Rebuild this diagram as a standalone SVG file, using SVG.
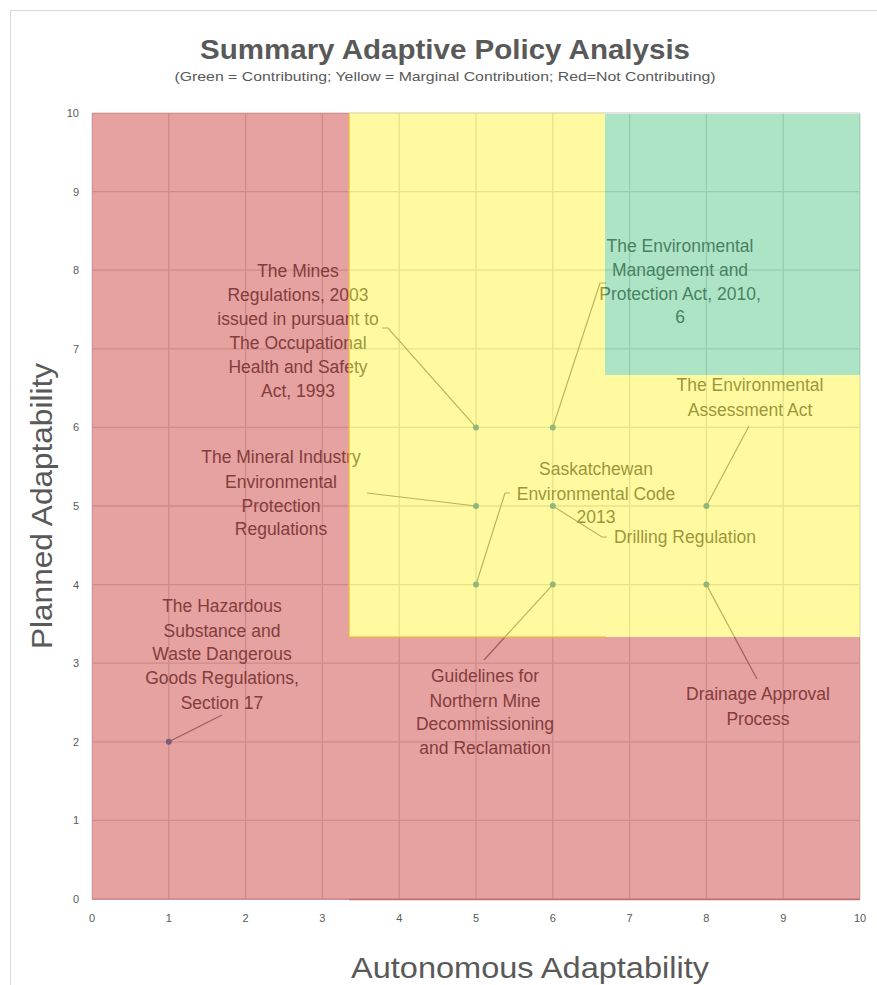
<svg xmlns="http://www.w3.org/2000/svg" width="877" height="985" viewBox="0 0 877 985">
<style>
  .lbl { font-family: "Liberation Sans", Arial, sans-serif; font-size: 17.5px; fill: #595959; text-anchor: middle; }
  .tick { font-family: "Liberation Sans", Arial, sans-serif; font-size: 11px; fill: #595959; }
  .grid line { stroke: #d9d9d9; stroke-width: 1.3; }
  .lead { fill: none; stroke: #8c8c8c; stroke-width: 1.2; }
  .pt { fill: #4a8fc4; }
  .ov { opacity: 0.4; }
</style>
<rect x="0" y="0" width="877" height="985" fill="#ffffff"/>
<rect x="10.5" y="10.5" width="872" height="980" fill="none" stroke="#d9d9d9" stroke-width="1"/>

<g id="title">
  <text x="445" y="59" font-family="Liberation Sans, Arial, sans-serif" font-size="28" font-weight="bold" fill="#595959" text-anchor="middle" textLength="490" lengthAdjust="spacingAndGlyphs">Summary Adaptive Policy Analysis</text>
  <text x="445" y="81" font-family="Liberation Sans, Arial, sans-serif" font-size="13" fill="#595959" text-anchor="middle" textLength="541" lengthAdjust="spacingAndGlyphs">(Green = Contributing; Yellow = Marginal Contribution; Red=Not Contributing)</text>
</g>

<g id="grid" class="grid">
  <line x1="92" y1="113" x2="92" y2="899"/>
  <line x1="168.8" y1="113" x2="168.8" y2="899"/>
  <line x1="245.6" y1="113" x2="245.6" y2="899"/>
  <line x1="322.4" y1="113" x2="322.4" y2="899"/>
  <line x1="399.2" y1="113" x2="399.2" y2="899"/>
  <line x1="476" y1="113" x2="476" y2="899"/>
  <line x1="552.8" y1="113" x2="552.8" y2="899"/>
  <line x1="629.6" y1="113" x2="629.6" y2="899"/>
  <line x1="706.4" y1="113" x2="706.4" y2="899"/>
  <line x1="783.2" y1="113" x2="783.2" y2="899"/>
  <line x1="860" y1="113" x2="860" y2="899"/>
  <line x1="92" y1="899" x2="860" y2="899"/>
  <line x1="92" y1="820.4" x2="860" y2="820.4"/>
  <line x1="92" y1="741.8" x2="860" y2="741.8"/>
  <line x1="92" y1="663.2" x2="860" y2="663.2"/>
  <line x1="92" y1="584.6" x2="860" y2="584.6"/>
  <line x1="92" y1="506" x2="860" y2="506"/>
  <line x1="92" y1="427.4" x2="860" y2="427.4"/>
  <line x1="92" y1="348.8" x2="860" y2="348.8"/>
  <line x1="92" y1="270.2" x2="860" y2="270.2"/>
  <line x1="92" y1="191.6" x2="860" y2="191.6"/>
  <line x1="92" y1="113" x2="860" y2="113"/>
</g>

<g id="axes" class="tick">
  <g text-anchor="middle">
    <text x="92" y="922">0</text><text x="168.8" y="922">1</text><text x="245.6" y="922">2</text>
    <text x="322.4" y="922">3</text><text x="399.2" y="922">4</text><text x="476" y="922">5</text>
    <text x="552.8" y="922">6</text><text x="629.6" y="922">7</text><text x="706.4" y="922">8</text>
    <text x="783.2" y="922">9</text><text x="860" y="922">10</text>
  </g>
  <g text-anchor="end">
    <text x="79" y="903">0</text><text x="79" y="824.4">1</text><text x="79" y="745.8">2</text>
    <text x="79" y="667.2">3</text><text x="79" y="588.6">4</text><text x="79" y="510">5</text>
    <text x="79" y="431.4">6</text><text x="79" y="352.8">7</text><text x="79" y="274.2">8</text>
    <text x="79" y="195.6">9</text><text x="79" y="117">10</text>
  </g>
  <text x="530" y="978" font-size="30" text-anchor="middle" textLength="358" lengthAdjust="spacingAndGlyphs">Autonomous Adaptability</text>
  <text transform="translate(52,506) rotate(-90)" x="0" y="0" font-size="30" text-anchor="middle" textLength="286" lengthAdjust="spacingAndGlyphs">Planned Adaptability</text>
</g>

<g id="connectors">
  <polyline class="lead" points="382,328 388,328 476,427.4"/>
  <polyline class="lead" points="606,283 600,283 552.8,427.4"/>
  <polyline class="lead" points="749,426 706.4,506"/>
  <polyline class="lead" points="367,493 476,506"/>
  <polyline class="lead" points="476,584.6 505,493 510,493"/>
  <polyline class="lead" points="552.8,506 602,537 607,537"/>
  <polyline class="lead" points="552.8,584.6 484,660"/>
  <polyline class="lead" points="706.4,584.6 757,679"/>
  <polyline class="lead" points="168.8,741.8 222,715"/>
</g>

<g id="node-mines">
  <circle class="pt" cx="476" cy="427.4" r="3"/>
  <text class="lbl"><tspan x="298" y="277">The Mines</tspan><tspan x="298" y="301">Regulations, 2003</tspan><tspan x="298" y="325">issued in pursuant to</tspan><tspan x="298" y="349">The Occupational</tspan><tspan x="298" y="373">Health and Safety</tspan><tspan x="298" y="397">Act, 1993</tspan></text>
</g>
<g id="node-emp">
  <circle class="pt" cx="552.8" cy="427.4" r="3"/>
  <text class="lbl"><tspan x="680" y="252">The Environmental</tspan><tspan x="680" y="276">Management and</tspan><tspan x="680" y="300">Protection Act, 2010,</tspan><tspan x="680" y="323">6</tspan></text>
</g>
<g id="node-ea">
  <circle class="pt" cx="706.4" cy="506" r="3"/>
  <text class="lbl"><tspan x="750" y="391">The Environmental</tspan><tspan x="750" y="416">Assessment Act</tspan></text>
</g>
<g id="node-mineral">
  <circle class="pt" cx="476" cy="506" r="3"/>
  <text class="lbl"><tspan x="281" y="463">The Mineral Industry</tspan><tspan x="281" y="488">Environmental</tspan><tspan x="281" y="512">Protection</tspan><tspan x="281" y="535">Regulations</tspan></text>
</g>
<g id="node-sask">
  <circle class="pt" cx="476" cy="584.6" r="3"/>
  <text class="lbl"><tspan x="596" y="475">Saskatchewan</tspan><tspan x="596" y="500">Environmental Code</tspan><tspan x="596" y="523">2013</tspan></text>
</g>
<g id="node-drilling">
  <circle class="pt" cx="552.8" cy="506" r="3"/>
  <text class="lbl" x="685" y="543">Drilling Regulation</text>
</g>
<g id="node-guidelines">
  <circle class="pt" cx="552.8" cy="584.6" r="3"/>
  <text class="lbl"><tspan x="485" y="682">Guidelines for</tspan><tspan x="485" y="707">Northern Mine</tspan><tspan x="485" y="730">Decommissioning</tspan><tspan x="485" y="754">and Reclamation</tspan></text>
</g>
<g id="node-drainage">
  <circle class="pt" cx="706.4" cy="584.6" r="3"/>
  <text class="lbl"><tspan x="758" y="700">Drainage Approval</tspan><tspan x="758" y="725">Process</tspan></text>
</g>
<g id="node-hazardous">
  <circle class="pt" cx="168.8" cy="741.8" r="3"/>
  <text class="lbl"><tspan x="222" y="612">The Hazardous</tspan><tspan x="222" y="637">Substance and</tspan><tspan x="222" y="660">Waste Dangerous</tspan><tspan x="222" y="684">Goods Regulations,</tspan><tspan x="222" y="709">Section 17</tspan></text>
</g>

<g id="regions">
  <path class="ov" fill="#c01414" d="M92,113 H349 V637 H860 V900 H92 Z"/>
  <path class="ov" fill="#fff311" d="M349,113 H605 V375 H860 V637 H349 Z"/>
  <path class="ov" fill="#32bc6e" d="M605,114 H860 V375 H605 Z"/>
  <path d="M349,113 V637 H606" fill="none" stroke="#f0b840" stroke-width="1.5" opacity="0.8"/>
  <line x1="349" y1="899.5" x2="860" y2="899.5" stroke="#c07070" stroke-width="1.5"/>
</g>
</svg>
